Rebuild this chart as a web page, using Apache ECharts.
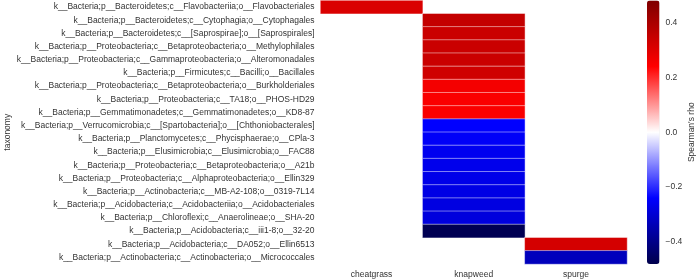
<!DOCTYPE html>
<html>
<head>
<meta charset="utf-8">
<script src="https://cdn.jsdelivr.net/npm/echarts@6/dist/echarts.min.js"></script>
<style>
  html, body { margin: 0; padding: 0; background: #fff; }
  #chart { width: 696px; height: 279px; }
</style>
</head>
<body>
<div id="chart"></div>
<script>
  // 分类
  const sites = ["cheatgrass", "knapweed", "spurge"];
  const taxa = [
    "k__Bacteria;p__Bacteroidetes;c__Flavobacteriia;o__Flavobacteriales",
    "k__Bacteria;p__Bacteroidetes;c__Cytophagia;o__Cytophagales",
    "k__Bacteria;p__Bacteroidetes;c__[Saprospirae];o__[Saprospirales]",
    "k__Bacteria;p__Proteobacteria;c__Betaproteobacteria;o__Methylophilales",
    "k__Bacteria;p__Proteobacteria;c__Gammaproteobacteria;o__Alteromonadales",
    "k__Bacteria;p__Firmicutes;c__Bacilli;o__Bacillales",
    "k__Bacteria;p__Proteobacteria;c__Betaproteobacteria;o__Burkholderiales",
    "k__Bacteria;p__Proteobacteria;c__TA18;o__PHOS-HD29",
    "k__Bacteria;p__Gemmatimonadetes;c__Gemmatimonadetes;o__KD8-87",
    "k__Bacteria;p__Verrucomicrobia;c__[Spartobacteria];o__[Chthoniobacterales]",
    "k__Bacteria;p__Planctomycetes;c__Phycisphaerae;o__CPla-3",
    "k__Bacteria;p__Elusimicrobia;c__Elusimicrobia;o__FAC88",
    "k__Bacteria;p__Proteobacteria;c__Betaproteobacteria;o__A21b",
    "k__Bacteria;p__Proteobacteria;c__Alphaproteobacteria;o__Ellin329",
    "k__Bacteria;p__Actinobacteria;c__MB-A2-108;o__0319-7L14",
    "k__Bacteria;p__Acidobacteria;c__Acidobacteriia;o__Acidobacteriales",
    "k__Bacteria;p__Chloroflexi;c__Anaerolineae;o__SHA-20",
    "k__Bacteria;p__Acidobacteria;c__iii1-8;o__32-20",
    "k__Bacteria;p__Acidobacteria;c__DA052;o__Ellin6513",
    "k__Bacteria;p__Actinobacteria;c__Actinobacteria;o__Micrococcales"
  ];

  // 每列的 rho 值（null 表示空白）
  const cheatgrassRho = [0.31, null, null, null, null, null, null, null, null, null,
    null, null, null, null, null, null, null, null, null, null];
  const knapweedRho = [null, 0.35, 0.34, 0.34, 0.34, 0.33, 0.26, 0.25, 0.25, -0.24,
    -0.25, -0.26, -0.265, -0.27, -0.275, -0.28, -0.285, -0.47, null, null];
  const spurgeRho = [null, null, null, null, null, null, null, null, null, null,
    null, null, null, null, null, null, null, null, 0.32, -0.33];

  // 色条刻度
  const cbarTicks = [-0.4, -0.2, 0.0, 0.2, 0.4];
  const cbarMin = -0.48;
  const cbarMax = 0.48;

  const cells = [];
  [cheatgrassRho, knapweedRho, spurgeRho].forEach((col, xi) => {
    col.forEach((v, yi) => {
      if (v !== null) cells.push([xi, yi, v]);
    });
  });

  const fmt = (v) => {
    const s = Math.abs(v).toFixed(1);
    return v < -1e-9 ? "\u2212" + s : s;
  };

  const myChart = echarts.init(document.getElementById("chart"));

  const option = {
    animation: false,
    textStyle: { fontFamily: "Liberation Sans, Arial, sans-serif" },
    grid: [
      { left: 320.5, top: 0.5, width: 306.5, height: 263.5, outerBoundsMode: "none", containLabel: false },
      { left: 647, top: 0.5, width: 12.5, height: 263.5, outerBoundsMode: "none", containLabel: false }
    ],
    xAxis: [
      {
        type: "category",
        data: sites,
        gridIndex: 0,
        axisLine: { show: false },
        axisTick: { show: false },
        splitLine: { show: false },
        axisLabel: { color: "#333", fontSize: 8.5, margin: 6 }
      },
      { type: "value", gridIndex: 1, show: false, min: 0, max: 1 }
    ],
    yAxis: [
      {
        type: "category",
        data: taxa,
        inverse: true,
        gridIndex: 0,
        name: "taxonomy",
        nameLocation: "middle",
        nameGap: 308,
        nameRotate: 90,
        nameTextStyle: { color: "#333", fontSize: 8.5 },
        axisLine: { show: false },
        axisTick: { show: false },
        splitLine: { show: false },
        axisLabel: { color: "#333", fontSize: 8.5, margin: 6 }
      },
      {
        type: "value",
        gridIndex: 1,
        position: "right",
        min: cbarMin,
        max: cbarMax,
        name: "Spearman's rho",
        nameLocation: "middle",
        nameGap: 28,
        nameRotate: 90,
        nameTextStyle: { color: "#333", fontSize: 8.5 },
        axisLine: { show: false },
        splitLine: { show: false },
        axisTick: { show: false },
        axisLabel: {
          color: "#333",
          fontSize: 8.5,
          margin: 6,
          customValues: cbarTicks,
          formatter: fmt
        }
      }
    ],
    visualMap: {
      type: "continuous",
      min: cbarMin,
      max: cbarMax,
      seriesIndex: 0,
      orient: "vertical",
      left: 647,
      top: 0.5,
      padding: 0,
      itemWidth: 12.5,
      itemHeight: 263.5,
      calculable: false,
      hoverLink: false,
      text: null,
      showLabel: false,
      inRange: {
        // seismic 色带
        color: ["#00004c", "#0000ff", "#ffffff", "#ff0000", "#7f0000"]
      }
    },
    series: [
      {
        type: "heatmap",
        xAxisIndex: 0,
        yAxisIndex: 0,
        data: cells,
        itemStyle: { borderColor: "rgba(255,255,255,0.45)", borderWidth: 1 },
        emphasis: { disabled: true }
      }
    ]
  };

  myChart.setOption(option);

  window.addEventListener("resize", () => {
    myChart.resize();
  });
</script>
</body>
</html>
